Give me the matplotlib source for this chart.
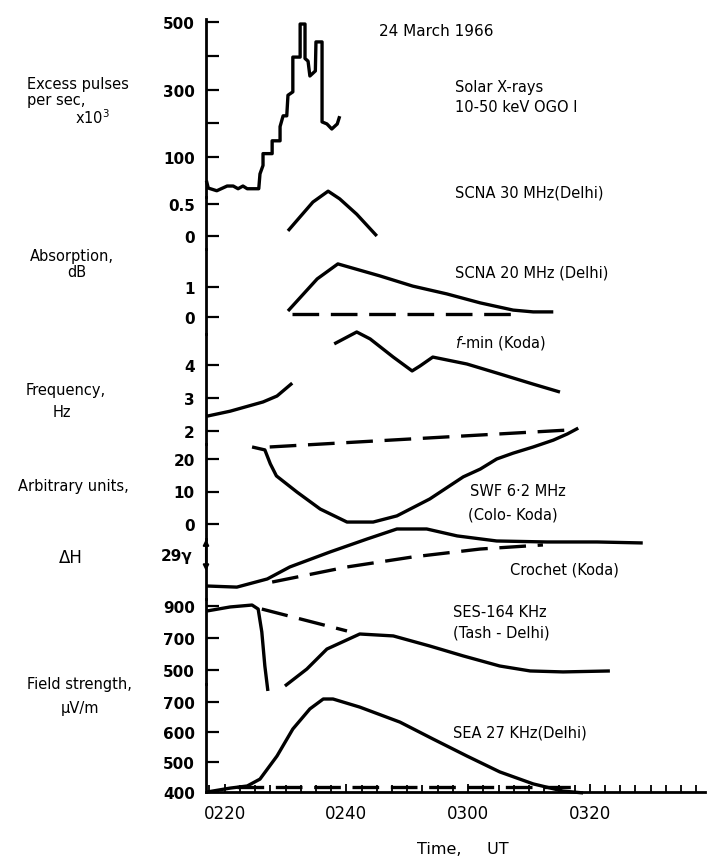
import matplotlib
matplotlib.use('Agg')
import matplotlib.pyplot as plt

plt.rcParams['font.family'] = ['DejaVu Sans']

# time axis: minutes after 0200 UT
time_ticks = [20, 40, 60, 80]
time_labels = ['0220', '0240', '0300', '0320']

# Solar X-rays 10-50 keV (excess pulses/s x10^3)
xray_t = [17.0, 17.3, 18.7, 20.4, 21.4, 22.2, 23.0, 23.7, 25.6, 25.8, 26.3, 26.3, 27.8, 27.8,
          29.1, 29.1, 29.6, 30.2, 30.4, 31.2, 31.2, 32.4, 32.4, 33.2, 33.2, 33.7, 34.0, 34.9,
          35.0, 36.0, 36.0, 36.8, 37.6, 38.5, 38.9]
xray_v = [30, 8, 0, 14, 14, 6, 14, 6, 6, 50, 75, 110, 110, 148,
          148, 190, 222, 222, 283, 293, 396, 396, 494, 494, 392, 384, 340, 355,
          441, 441, 204, 198, 183, 198, 221]

# SCNA 30 MHz (dB)
scna30_t = [30.4, 32.4, 34.5, 37.0, 38.9, 41.7, 45.0]
scna30_v = [0.08, 0.30, 0.53, 0.70, 0.58, 0.34, 0.0]

# SCNA 20 MHz (dB)
scna20_t = [30.4, 35.2, 38.6, 45.5, 50.9, 56.5, 62.0, 67.4, 70.7, 74.0]
scna20_v = [0.2, 1.27, 1.77, 1.37, 1.03, 0.77, 0.47, 0.23, 0.17, 0.17]
scna20_base_t = [31.1, 68.2]
scna20_base_v = [0.1, 0.1]

# f-min (Koda), Hz
fmin1_t = [17.1, 20.9, 26.3, 28.6, 31.1]
fmin1_v = [2.45, 2.6, 2.88, 3.06, 3.45]
fmin2_t = [38.0, 41.7, 43.9, 47.7, 50.8, 52.1, 54.2, 59.8, 65.2, 70.7, 75.1]
fmin2_v = [4.64, 5.0, 4.79, 4.24, 3.82, 3.97, 4.24, 4.03, 3.73, 3.42, 3.18]

# SWF 6.2 MHz (arbitrary units)
swf_t = [24.5, 26.6, 27.5, 28.5, 31.9, 35.7, 40.1, 44.4, 48.3, 53.7, 59.2, 62.0, 64.7,
         67.4, 70.7, 74.0, 76.3, 78.1]
swf_v = [23.7, 22.8, 18.5, 14.8, 9.8, 4.6, 0.6, 0.6, 2.5, 7.7, 14.5, 16.9, 20.0,
         21.8, 23.7, 25.8, 27.7, 29.5]
swf_base_t = [27.4, 76.3]
swf_base_v = [23.7, 28.9]

# Crochet (Koda), gamma
dh_t = [17.1, 22.0, 27.0, 30.7, 37.3, 43.4, 48.3, 53.2, 58.2, 64.7, 73.0, 81.2, 88.7]
dh_v = [0, -1, 6.4, 17.3, 30.9, 42.7, 51.8, 51.8, 45.5, 40.9, 40.0, 40.0, 39.1]
dh_base_t = [27.8, 40.1, 50.9, 62.0, 72.3]
dh_base_v = [3.6, 17.3, 26.4, 33.6, 37.3]
dh_scale = 29

# SES 164 kHz (Tash - Delhi), uV/m
ses1_t = [17.1, 20.9, 24.5, 25.5, 26.1, 26.6, 27.1]
ses1_v = [869, 894, 906, 881, 738, 525, 369]
ses2_t = [29.9, 33.5, 36.8, 42.2, 47.7, 53.7, 59.2, 65.2, 70.2, 75.6, 83.3]
ses2_v = [400, 506, 631, 725, 713, 650, 588, 525, 494, 488, 494]
ses_base_t = [26.1, 40.1]
ses_base_v = [881, 744]

# SEA 27 kHz (Delhi), uV/m
sea_t = [17.1, 20.9, 23.7, 25.8, 28.6, 31.2, 34.0, 36.2, 37.8, 42.2, 48.8, 54.2, 59.8,
         65.2, 70.7, 75.6, 78.9]
sea_v = [400, 413, 420, 443, 520, 610, 677, 710, 710, 683, 633, 577, 520,
         467, 427, 403, 397]
sea_base_t = [22.0, 78.0]
sea_base_v = [417, 417]

W, H = 708, 862
fig = plt.figure(figsize=(W / 100, H / 100), dpi=100)
X0, X1 = 206, 705
T0, T1 = 16.93, 98.93
LW = 2.4
DASH = (8, 3.5)


def px(x, y):
    return x / W, 1 - y / H


def panel(top, bot, ylim, ticks, labels):
    ax = fig.add_axes([X0 / W, 1 - bot / H, (X1 - X0) / W, (bot - top) / H])
    ax.set_xlim(T0, T1)
    ax.set_ylim(*ylim)
    ax.patch.set_alpha(0)
    for s in ['top', 'right', 'bottom']:
        ax.spines[s].set_visible(False)
    ax.spines['left'].set_linewidth(2)
    ax.set_xticks([])
    ax.set_yticks(ticks)
    ax.set_yticklabels(labels, fontweight='bold')
    ax.tick_params(axis='y', direction='in', length=9, width=1.6, pad=8, labelsize=11)
    return ax


def line(ax, t, v, dashed=False):
    kw = dict(color='black', lw=LW, clip_on=False, solid_capstyle='butt',
              solid_joinstyle='round')
    if dashed:
        ax.plot(t, v, dashes=DASH, **kw)
    else:
        ax.plot(t, v, **kw)


axA = panel(20, 198, (-18.5, 508.9), [100, 200, 300, 400, 500], ['100', '', '300', '', '500'])
line(axA, xray_t, xray_v)

axB = panel(198, 250, (-0.203, 0.609), [0, 0.5], ['0', '0.5'])
line(axB, scna30_t, scna30_v)

axC = panel(250, 335, (-0.567, 2.267), [0, 1], ['0', '1'])
line(axC, scna20_t, scna20_v)
line(axC, scna20_base_t, scna20_base_v, dashed=True)

axD = panel(335, 445, (1.606, 4.939), [2, 3, 4], ['2', '3', '4'])
line(axD, fmin1_t, fmin1_v)
line(axD, fmin2_t, fmin2_v)

axE = panel(445, 540, (-4.615, 24.615), [0, 10, 20], ['0', '10', '20'])
line(axE, swf_t, swf_v)
line(axE, swf_base_t, swf_base_v, dashed=True)

axF = panel(540, 600, (-11.8, 42.7), [], [])
line(axF, dh_t, dh_v)
line(axF, dh_base_t, dh_base_v, dashed=True)
axF.annotate('', xy=(T0, 13.6 + dh_scale), xytext=(T0, 13.6), annotation_clip=False,
             arrowprops=dict(arrowstyle='<|-|>', lw=1.5, color='black',
                             mutation_scale=8, shrinkA=0, shrinkB=0))

axG = panel(600, 685, (412.5, 943.75), [500, 700, 900], ['500', '700', '900'])
line(axG, ses1_t, ses1_v)
line(axG, ses2_t, ses2_v)
line(axG, ses_base_t, ses_base_v, dashed=True)

axH = panel(685, 793, (400, 760), [400, 500, 600, 700], ['400', '500', '600', '700'])
line(axH, sea_t, sea_v)
line(axH, sea_base_t, sea_base_v, dashed=True)
axH.spines['bottom'].set_visible(True)
axH.spines['bottom'].set_linewidth(2)
axH.set_xticks(time_ticks)
axH.set_xticklabels(time_labels)
axH.set_xticks([k * 2.5 for k in range(7, 40)], minor=True)
axH.tick_params(axis='x', which='major', direction='in', length=6, width=1.3, pad=9, labelsize=12)
axH.tick_params(axis='x', which='minor', direction='in', length=5, width=1.3)

# titles and curve labels
fs = 10.5
fig.text(*px(436, 32), '24 March 1966', fontsize=11, ha='center', va='center')
fig.text(*px(455, 88), 'Solar X-rays', fontsize=fs, va='center')
fig.text(*px(455, 107), '10-50 keV OGO I', fontsize=fs, va='center')
fig.text(*px(455, 193), 'SCNA 30 MHz(Delhi)', fontsize=fs, va='center')
fig.text(*px(455, 273), 'SCNA 20 MHz (Delhi)', fontsize=fs, va='center')
fig.text(*px(455, 343), r'$f$-min (Koda)', fontsize=fs, va='center')
fig.text(*px(470, 492), 'SWF 6·2 MHz', fontsize=fs, va='center')
fig.text(*px(468, 515), '(Colo- Koda)', fontsize=fs, va='center')
fig.text(*px(510, 570), 'Crochet (Koda)', fontsize=fs, va='center')
fig.text(*px(453, 613), 'SES-164 KHz', fontsize=fs, va='center')
fig.text(*px(453, 633), '(Tash - Delhi)', fontsize=fs, va='center')
fig.text(*px(453, 733), 'SEA 27 KHz(Delhi)', fontsize=fs, va='center')
fig.text(*px(463, 850), 'Time,     UT', fontsize=11.5, ha='center', va='center')

# left axis descriptions
fig.text(*px(27, 85), 'Excess pulses', fontsize=fs, va='center')
fig.text(*px(27, 101), 'per sec,', fontsize=fs, va='center')
fig.text(*px(75, 118), r'x10$^3$', fontsize=fs, va='center')
fig.text(*px(72, 256), 'Absorption,', fontsize=fs, ha='center', va='center')
fig.text(*px(77, 273), 'dB', fontsize=fs, ha='center', va='center')
fig.text(*px(66, 390), 'Frequency,', fontsize=fs, ha='center', va='center')
fig.text(*px(62, 413), 'Hz', fontsize=fs, ha='center', va='center')
fig.text(*px(73, 487), 'Arbitrary units,', fontsize=fs, ha='center', va='center')
fig.text(*px(71, 558), 'ΔH', fontsize=12, ha='center', va='center')
fig.text(*px(193, 557), '29γ', fontsize=11, fontweight='bold', ha='right', va='center')
fig.text(*px(79, 685), 'Field strength,', fontsize=fs, ha='center', va='center')
fig.text(*px(80, 709), 'μV/m', fontsize=fs, ha='center', va='center')

fig.savefig('out.png', dpi=100)
